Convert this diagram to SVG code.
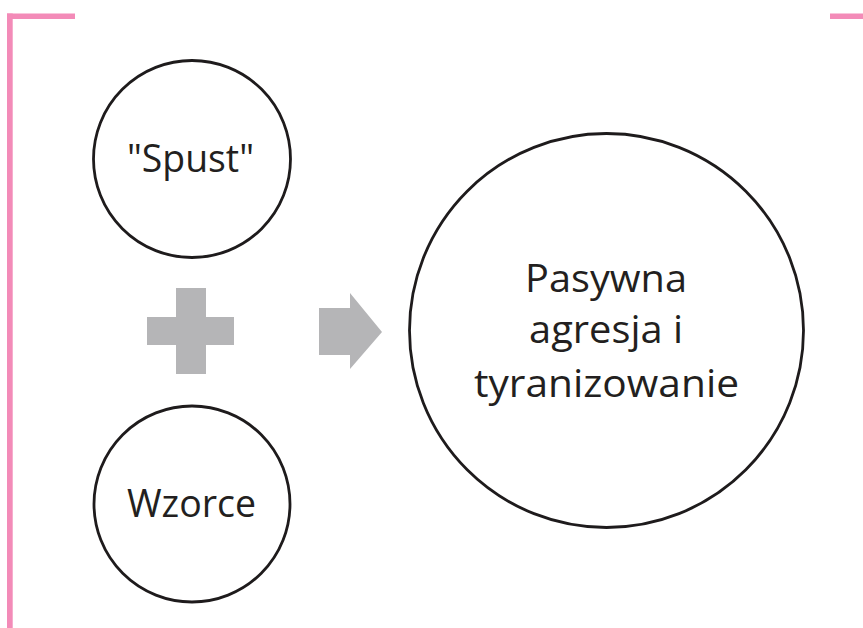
<svg xmlns="http://www.w3.org/2000/svg" width="863" height="628" viewBox="0 0 863 628">
<style>
.frame{fill:#f38bb8}
.node{fill:#ffffff;stroke:#1e1b1c;stroke-width:2.8}
.shape{fill:#b5b5b7}
.lbl{font-family:"Open Sans","DejaVu Sans",sans-serif;font-size:38px;fill:#231f20;text-anchor:middle}
</style>
<rect width="863" height="628" fill="#ffffff"/>
<g id="frame">
<rect class="frame" x="7" y="13.5" width="68" height="5.5"/>
<rect class="frame" x="7" y="13.5" width="5.7" height="614.5"/>
<rect class="frame" x="830" y="13.5" width="33" height="5.5"/>
</g>
<g id="connectors">
<path class="shape" d="M176,288 H206 V317 H234 V345 H206 V374 H176 V345 H147 V317 H176 Z"/>
<path class="shape" d="M319,308 H350 V293 L382,332 L350,369 V355 H319 Z"/>
</g>
<g id="node-spust">
<circle class="node" cx="192" cy="159" r="98.5"/>
<text class="lbl" x="190.5" y="172" textLength="127" lengthAdjust="spacingAndGlyphs">"Spust"</text>
</g>
<g id="node-wzorce">
<circle class="node" cx="192" cy="504" r="98"/>
<text class="lbl" x="191.5" y="517" textLength="129" lengthAdjust="spacingAndGlyphs">Wzorce</text>
</g>
<g id="node-pasywna">
<circle class="node" cx="606.5" cy="330.5" r="197"/>
<text class="lbl" x="606" y="292" textLength="162" lengthAdjust="spacingAndGlyphs">Pasywna</text>
<text class="lbl" x="606" y="343" textLength="154" lengthAdjust="spacingAndGlyphs">agresja i</text>
<text class="lbl" x="606.5" y="397" textLength="265" lengthAdjust="spacingAndGlyphs">tyranizowanie</text>
</g>
</svg>
